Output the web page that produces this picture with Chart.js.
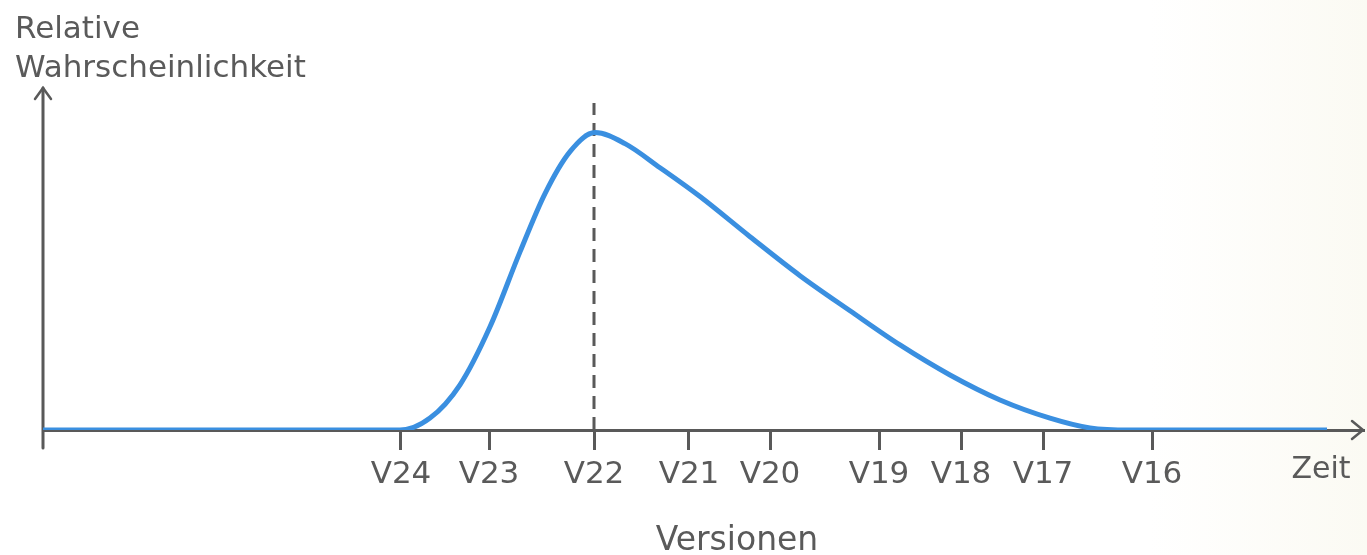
<!DOCTYPE html>
<html>
<head>
<meta charset="utf-8">
<script src="https://cdn.jsdelivr.net/npm/chart.js@4"></script>
<style>
  html, body { margin: 0; padding: 0; background: #ffffff; }
  #wrap { width: 1367px; height: 555px; }
</style>
</head>
<body>
<div id="wrap"><canvas id="chart" width="1367" height="555"></canvas></div>
<script>
// Versionen auf der Zeitachse (Zeiteinheiten)
var versionLabels = ['V24', 'V23', 'V22', 'V21', 'V20', 'V19', 'V18', 'V17', 'V16'];
var versionTimes = [35.8, 44.6, 55.1, 64.6, 72.7, 83.6, 91.8, 100.0, 110.9];

// Kurve der relativen Wahrscheinlichkeit
var curveTimes = [0, 35.7, 38.7, 41.7, 44.7, 47.7, 50.2, 52.7, 55.2,
                  58.2, 61.7, 65.7, 70.7, 75.7, 80.7, 85.7, 90.7, 95.7, 100.7, 104.7, 108.7, 128.4];
var curveValues = [0, 0, 0.040, 0.152, 0.347, 0.599, 0.795, 0.936, 1.0,
                   0.963, 0.882, 0.785, 0.650, 0.519, 0.401, 0.286, 0.185, 0.101, 0.040, 0.007, 0, 0];

var peakTime = versionTimes[2]; // V22

var axisColor = '#595959';
var textColor = '#5a5a5a';
var fontName = '"DejaVu Sans", "Liberation Sans", sans-serif';

// ===================================================================
// Achsenpfeile, gestrichelte Linie und Beschriftungen
var decoPlugin = {
    id: 'deco',
    beforeDraw: function(chart) {
        var ctx = chart.ctx;
        ctx.save();
        var g = ctx.createLinearGradient(1150, 0, 1367, 0);
        g.addColorStop(0, '#ffffff');
        g.addColorStop(1, '#fbfaf3');
        ctx.fillStyle = g;
        ctx.fillRect(0, 0, chart.width, chart.height);
        ctx.restore();
    },
    beforeDatasetsDraw: function(chart) {
        var ctx = chart.ctx;
        var xs = chart.scales.x, ys = chart.scales.y;
        var x0 = xs.getPixelForValue(0);
        var yBase = ys.getPixelForValue(0);
        var yTop = ys.getPixelForValue(ys.max);
        var xEnd = xs.getPixelForValue(xs.max);
        ctx.save();
        ctx.strokeStyle = axisColor;
        ctx.lineWidth = 3;
        ctx.lineCap = 'round';
        // y-Achse
        ctx.beginPath();
        ctx.moveTo(x0, yBase + 18);
        ctx.lineTo(x0, yTop);
        ctx.stroke();
        ctx.lineWidth = 2.5;
        ctx.beginPath();
        ctx.moveTo(x0 - 8, yTop + 11);
        ctx.lineTo(x0, yTop);
        ctx.lineTo(x0 + 8, yTop + 11);
        ctx.stroke();
        // x-Pfeil
        ctx.beginPath();
        ctx.moveTo(xEnd - 11, yBase - 9);
        ctx.lineTo(xEnd, yBase);
        ctx.lineTo(xEnd - 11, yBase + 9);
        ctx.stroke();
        // gestrichelte Linie bei V22
        var xp = xs.getPixelForValue(peakTime);
        ctx.lineWidth = 3;
        ctx.lineCap = 'butt';
        ctx.setLineDash([13, 8]);
        ctx.beginPath();
        ctx.moveTo(xp, yBase);
        ctx.lineTo(xp, 103);
        ctx.stroke();
        ctx.restore();
    },
    afterDraw: function(chart) {
        var ctx = chart.ctx;
        ctx.save();
        ctx.fillStyle = textColor;
        ctx.textBaseline = 'alphabetic';
        ctx.textAlign = 'left';
        ctx.font = '31px ' + fontName;
        ctx.fillText('Relative', 15, 38);
        ctx.fillText('Wahrscheinlichkeit', 15, 77);
        ctx.textAlign = 'center';
        ctx.font = '33px ' + fontName;
        ctx.fillText('Versionen', 737, 550);
        ctx.font = '30px ' + fontName;
        ctx.fillText('Zeit', 1321, 478);
        ctx.restore();
    }
};

var ctx = document.getElementById('chart').getContext('2d');
var myChart = new Chart(ctx, {
    type: 'line',
    data: {
        datasets: [{
            data: curveTimes.map(function(t, i) { return { x: t, y: curveValues[i] }; }),
            borderColor: '#3a8fe0',
            borderWidth: 5,
            pointRadius: 0,
            fill: false,
            cubicInterpolationMode: 'monotone'
        }]
    },
    options: {
        responsive: false,
        animation: false,
        layout: { padding: { left: 43, right: 4, top: 88, bottom: 0 } },
        plugins: {
            legend: { display: false },
            tooltip: { enabled: false }
        },
        scales: {
            x: {
                type: 'linear',
                min: 0,
                max: 132,
                afterBuildTicks: function(scale) {
                    scale.ticks = versionTimes.map(function(v) { return { value: v }; });
                },
                afterFit: function(scale) {
                    scale.height = 125;
                },
                ticks: {
                    autoSkip: false,
                    maxRotation: 0,
                    color: textColor,
                    padding: 6,
                    font: { family: fontName, size: 31 },
                    callback: function(value, index) { return versionLabels[index]; }
                },
                grid: {
                    drawOnChartArea: false,
                    drawTicks: true,
                    tickLength: 20,
                    color: axisColor,
                    lineWidth: 3
                },
                border: { display: true, color: axisColor, width: 3 }
            },
            y: {
                display: false,
                min: 0,
                max: 1.15
            }
        }
    },
    plugins: [decoPlugin]
});
</script>
</body>
</html>
